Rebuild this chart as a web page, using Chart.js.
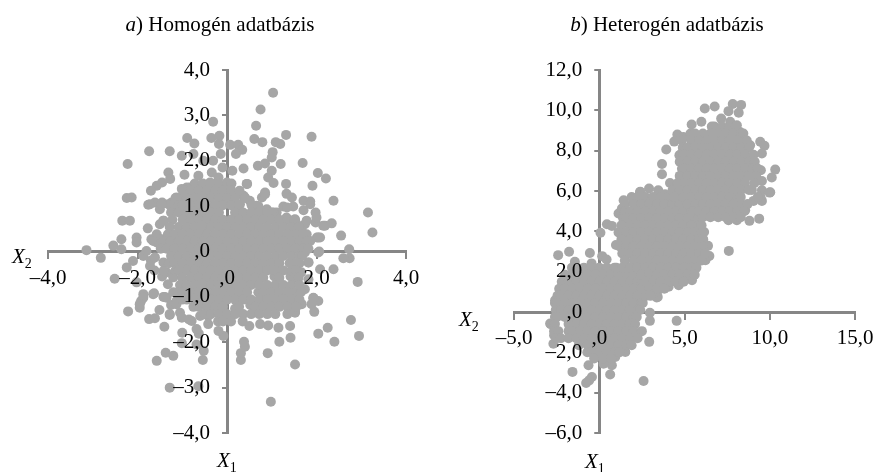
<!DOCTYPE html>
<html>
<head>
<meta charset="utf-8">
<script src="https://cdn.jsdelivr.net/npm/chart.js@4"></script>
<style>
  html, body { margin: 0; padding: 0; background: #fff; overflow: hidden; }
  body { position: relative; width: 874px; height: 472px; font-family: "Liberation Serif", serif; color: #000; }
  canvas { position: absolute; top: 0; }
  .txt { position: absolute; font-size: 21px; line-height: 22px; white-space: nowrap; }
  .title { transform: translateX(-50%); }
  sub { font-size: 14px; line-height: 0; }
</style>
</head>
<body>
<canvas id="chartA" width="437" height="472" style="left:0"></canvas>
<canvas id="chartB" width="437" height="472" style="left:437px"></canvas>
<div class="txt title" style="left:220px;top:13px"><i>a</i>) Homogén adatbázis</div>
<div class="txt title" style="left:667px;top:13px"><i>b</i>) Heterogén adatbázis</div>
<div class="txt" style="left:12px;top:245px"><i>X</i><sub>2</sub></div>
<div class="txt" style="left:217px;top:449px"><i>X</i><sub>1</sub></div>
<div class="txt" style="left:459px;top:308px"><i>X</i><sub>2</sub></div>
<div class="txt" style="left:585px;top:450px"><i>X</i><sub>1</sub></div>
<script>
// tick labels (excel format gives ",0" for zero)
const xTicksA = ['–4,0', '–2,0', ',0', '2,0', '4,0'];
const yTicksA = ['–4,0', '–3,0', '–2,0', '–1,0', ',0', '1,0', '2,0', '3,0', '4,0'];
const xTicksB = ['–5,0', ',0', '5,0', '10,0', '15,0'];
const yTicksB = ['–6,0', '–4,0', '–2,0', ',0', '2,0', '4,0', '6,0', '8,0', '10,0', '12,0'];

// panel a: scattered points read one by one [x, y]
const upperA = [[1.03,3.5],[.75,3.13],[.65,2.77],[-.31,2.86],[-.89,2.5],[-.35,2.5],[-.17,2.55],[-.73,2.38],[-.18,2.37],[.07,2.35],[.25,2.35],[.34,2.24],[.2,2.15],[-.14,2.15],[.61,2.48],[.79,2.41],[1.09,2.41],[1.19,2.37],[1.32,2.57],[1.89,2.53],[1.02,2.19],[1,2.07],[-1.74,2.21],[-1.28,2.21],[-2.22,1.93],[-1.01,2.11],[-.75,2.15],[-.53,2],[-.31,2],[-.1,1.85],[.12,1.78],[.37,1.83],[.69,1.89],[.85,1.94],[1.2,1.93],[1.69,1.95],[1,1.78],[.92,1.63],[1.04,1.51],[1.32,1.49],[2.03,1.73],[2.21,1.61],[1.91,1.45],[.45,1.49],[-1.31,1.74],[-1.27,1.6],[-1.45,1.52],[-1.57,1.45],[-1.7,1.34],[-1.01,1.38],[-.95,1.69],[-.64,1.67],[-.34,1.74],[-.19,1.63],[0,1.52],[-.38,1.52],[-.68,1.45],[-2.24,1.18],[-2.13,1.19],[-1.76,1.03],[-1.61,1.08],[-1.45,1.08],[-1.5,.93],[-1.24,1.08],[.85,1.3],[.78,1.19],[1.33,1.27],[1.45,1.19],[2.38,1.12],[1.71,1.12],[1.86,1.1],[1.26,.99],[1.48,.99],[1.71,.91],[1.98,.86],[3.15,.86],[3.25,.42],[-2.34,.68],[-2.17,.68],[-1.77,.51],[-1.42,.68],[-1.5,.6],[-2.36,.27],[-2.02,.31],[1.98,.64],[2.19,.57],[2.34,.62],[2.55,.35],[2.08,.31],[1.52,.68],[1.74,.6]];
const lowerA = [[-3.14,.03],[-2.82,-.14],[-2.54,.13],[-2.36,.05],[-2.02,.2],[-2.1,-.21],[-2.24,-.35],[-2.51,-.6],[-2.02,-.68],[-1.87,-.94],[-1.92,-1.09],[-1.95,-1.24],[-2.21,-1.32],[-1.63,-.92],[-1.51,-1.29],[-1.74,-1.49],[-1.61,-1.47],[-1.4,-1.66],[-1.28,-1.4],[-1,-1.79],[-1.01,-2.02],[-.68,-2.05],[-.63,-1.81],[-.52,-2.19],[-.54,-2.39],[-1.37,-2.23],[-1.2,-2.3],[-1.57,-2.41],[-1.28,-3],[-.64,-2.97],[.98,-3.31],[1.52,-2.49],[.91,-2.24],[.31,-2.39],[.31,-2.24],[.4,-2.1],[.38,-1.99],[1.17,-1.99],[1.42,-1.9],[2.04,-1.81],[2.25,-1.68],[2.4,-1.99],[2.77,-1.51],[2.95,-1.86],[2.92,-.67],[2.74,-.15],[2.6,-.15],[2.73,.05],[2.38,-.39],[2.08,-.39],[1.82,-.24],[2.06,0],[1.93,-1.03],[2.04,-1.09],[1.89,-1.16],[1.95,-1.33],[1.52,-1.33],[1.41,-1.64],[1.15,-1.68],[.92,-1.63],[.74,-1.6],[.5,-1.64],[-.08,-1.86],[-.19,-1.75],[-.42,-1.6],[-1.7,-.2],[-1.62,-.42],[-1.45,-.55],[-1.32,-.72],[-1.42,-1],[-1.25,-1.18],[-1.05,-1.35],[-.85,-1.5]];
// panel a: thinner band around the middle
const ringA = [[-1.31,1.04],[-1.13,1.19],[-.9,1.41],[-.6,1.41],[-.31,1.27],[.14,1.27],[.37,1.23],[.51,1.12],[.66,1.01],[.89,.93],[1.11,.86],[1.33,.75],[1.52,.71],[1.78,.68],[1.56,.46],[1.67,.46],[1.78,.38],[2.01,.31],[-1.57,.38],[-1.46,.27],[-1.69,.27],[-1.87,-.1],[-1.8,.01],[-1.57,.2],[-1.42,-.24],[-1.35,-.46],[-1.2,-.9],[-1.35,-1.02],[-1.13,-1.09],[-1.28,-1.38],[-1.01,-1.46],[-.79,-1.53],[-.6,-1.42],[-.42,-1.42],[-.68,-1.71],[1.63,-1.16],[1.48,-1.09],[1.74,-.83],[1.82,-.61],[1.74,-.02],[1.66,-.46],[-1.65,.23],[-1.5,.16],[-1.61,-.13],[-1.72,-.32],[-1.42,-.43],[-1.2,-.57],[-1.65,-.94],[-1.39,-1],[-1.13,-1.16],[-1.87,-1.02],[-1.95,-1.16],[1.86,1.04],[2,.75],[2.15,.57],[2.04,.31],[1.86,.23],[2.04,-.02],[1.82,-.24],[1.93,-1.02],[1.67,-1.16],[1.52,-1.35],[1.56,.6],[1.34,.97],[1.04,.86],[.85,1.26],[.7,1],[.44,1.49],[.4,1.19],[.29,1.04],[.07,1.41],[-.27,1.49],[-.53,1.41],[-.83,1.41],[-1.05,1.19],[-1.24,.97],[-1.46,1.04],[-1.72,1.04],[-1.42,.68],[1.06,-.55],[1.42,-.55],[1.4,-.26],[.7,-.9],[.18,-1.26],[.52,-1.18]];

// panel a: dense middle, one x list per row
const coreYA = [1.5,1.34,1.18,1.02,.86,.7,.54,.38,.22,.06,-.1,-.26,-.42,-.58,-.74,-.9,-1.06,-1.22,-1.38,-1.54];
const coreXA = [
  [-.72,-.54,-.36,-.18,0,.1],
  [-.95,-.81,-.63,-.45,-.27,-.09,.09,.28],
  [-1.15,-.9,-.72,-.54,-.36,-.18,0,.18,.4],
  [-1.25,-1.08,-.99,-.81,-.63,-.45,-.27,-.09,.09,.27,.55],
  [-1.25,-1.08,-.9,-.72,-.54,-.36,-.18,.18,.36,.54,.72,.9,1],
  [-1.22,-.99,-.81,-.63,-.45,-.27,-.09,.09,.27,.45,.63,.81,.99,1.17,1.35,1.5],
  [-1.28,-1.08,-.9,-.72,-.54,-.36,-.18,0,.18,.36,.54,.72,.9,1.08,1.26,1.44,1.6],
  [-1.32,-1.17,-.99,-.81,-.63,-.45,-.27,-.09,.09,.27,.45,.63,.81,.99,1.17,1.35,1.53,1.7],
  [-1.4,-1.26,-1.08,-.9,-.72,-.54,-.36,-.18,0,.18,.36,.54,.72,.9,1.08,1.26,1.44,1.62,1.78],
  [-1.48,-1.35,-1.17,-.99,-.81,-.63,-.45,-.27,-.09,.09,.27,.45,.63,.81,.99,1.17,1.35,1.53,1.71,1.82],
  [-1.25,-1.08,-.9,-.72,-.54,-.36,-.18,0,.18,.36,.54,.72,.9,1.08,1.26,1.44,1.62,1.68],
  [-1.3,-1.17,-.99,-.81,-.63,-.45,-.27,-.09,.09,.27,.45,.63,.81,.99,1.17,1.53,1.62],
  [-1.15,-1.08,-.9,-.72,-.54,-.36,-.18,0,.18,.36,.54,.72,.9,1.08,1.26,1.44,1.55],
  [-1,-.81,-.63,-.45,-.27,-.09,.09,.27,.45,.63,.81,1.17,1.53,1.6],
  [-1.05,-.9,-.72,-.54,-.36,-.18,0,.18,.36,.54,.72,.9,1.08,1.26,1.44,1.62],
  [-1.1,-.99,-.81,-.63,-.45,-.27,-.09,.09,.27,.45,.81,.99,1.17,1.35,1.53,1.65],
  [-1,-.9,-.72,-.54,-.36,-.18,0,.18,.36,.54,.72,.9,1.08,1.26,1.44,1.62],
  [-.75,-.63,-.45,-.27,-.09,.27,.63,.81,.99,1.17,1.35,1.55],
  [-.5,-.36,-.18,0,.18,.36,.54,.72,.9,1.08,1.35],
  [-.2,-.09,.09,.35]
];

// panel b: scattered points read one by one [x, y]
const scatterB = [[6.19,10.09],[6.77,10.19],[7.83,10.31],[8.32,10.27],[7.58,9.96],[8.18,9.88],[7.15,9.59],[5.99,9.43],[5.42,9.3],[7.68,9.43],[8.07,9.26],[8.26,8.93],[4.58,8.8],[4.93,8.68],[4.4,8.45],[3.93,8.06],[4.7,7.77],[3.68,7.34],[3.68,6.83],[4.15,6.4],[2.39,5.95],[2.92,6.12],[3.46,6.04],[3.86,5.84],[8.85,8.27],[9.44,8.44],[9.69,8.24],[9.54,7.86],[10.32,7.06],[10.12,6.67],[9.54,6.5],[9.48,7.03],[10.03,5.94],[9.54,6.04],[9.54,5.51],[9.05,5.51],[9.38,4.63],[8.81,4.52],[8.56,5.04],[8.07,4.55],[7.58,4.55],[6.89,4.75],[6.3,4.8],[6.15,3.97],[-2.41,2.82],[-1.77,2.99],[-.55,2.93],[.17,2.77],[.43,2.6],[.07,3.93],[.98,3.32],[3.37,.72],[2.97,-.04],[2.97,-.44],[4.54,-.44],[2.93,-1.48],[-1.43,2.49],[-.45,2.41],[7.6,3.03],[6.38,3.28],[6.46,2.78],[6.23,2.57],[2.6,-3.42],[.64,-3.1],[.74,-2.64],[.25,-2.56],[-.63,-2.64],[-1.57,-2.97],[-.43,-3.22],[-.59,-3.39],[-.77,-3.52],[1.53,-1.98],[.94,-2.23],[-2.69,-1.57],[-2.88,-.57],[-2.65,-1.15],[-2.59,.58],[3.43,.75],[5.44,1.58],[5.05,1.74],[4.66,1.33],[4.07,1.25],[3.39,1],[.45,4.35],[.74,4.27],[1.13,4.88],[1.43,5.54],[1.33,5.13],[2.41,5.96],[2.02,5.46],[1.13,3.94],[9.99,5.92],[9.46,5.71]];

// panel b: dense clusters, one x list per row
const highY = [9.2,8.85,8.5,8.15,7.8,7.45,7.1,6.75,6.4,6.05,5.7,5.35,5,4.7];
const highX = [
  [6.6,6.75,7.2,7.65,8],
  [5.35,5.62,6.08,6.52,6.98,7.42,7.88,8.32,8.45],
  [4.85,5.4,5.85,6.3,6.75,7.2,7.65,8.1,8.55,8.65],
  [4.9,5.18,5.62,6.08,6.52,6.98,7.42,7.88,8.32,8.78],
  [4.75,4.95,5.4,5.85,6.3,6.75,7.2,7.65,8.1,8.55,9.05],
  [4.72,5.18,5.62,6.08,6.52,6.98,7.42,7.88,8.32,8.78,9.12],
  [4.85,4.95,5.4,5.85,6.3,6.75,7.2,7.65,8.1,8.55,9,9.3],
  [4.72,5.18,5.62,6.08,6.52,6.98,7.42,7.88,8.32,8.78,9.2],
  [4.6,4.95,5.4,5.85,6.3,6.75,7.2,7.65,8.1,8.55,9.1],
  [4.3,4.72,5.18,5.62,6.08,6.52,6.98,7.42,7.88,8.32,8.78,8.95],
  [4.4,4.95,5.4,5.85,6.3,6.75,7.2,7.65,8.1,8.3,9.3],
  [5.18,5.62,6.08,6.52,6.98,7.42,7.88,8.32,8.7],
  [5.5,5.85,6.3,6.75,7.2,7.65,8.1,8.5],
  [6.08,6.52,6.98,7.42,7.88,8.3]
];
const midY = [5.7,5.35,5,4.65,4.3,3.95,3.6,3.25,2.9,2.55,2.2,1.85,1.5,1.15,.8];
const midX = [
  [1.9,2.25,2.7,3.15,3.6,4.05,4.5],
  [1.5,2.02,2.48,2.92,3.38,3.82,4.28,4.72,5.18,5.3],
  [1.5,1.8,2.25,2.7,3.15,3.6,4.05,4.5,4.95,5.4,5.6],
  [1.4,1.58,2.02,2.48,2.92,3.38,3.82,4.28,4.72,5.18,5.62,5.8],
  [1.3,1.8,2.25,2.7,3.15,3.6,4.05,4.5,4.95,5.4,5.85,6],
  [1.4,1.58,2.02,2.48,2.92,3.38,3.82,4.28,4.72,5.18,5.62,6.02],
  [1.3,1.8,2.25,2.7,3.15,3.6,4.05,4.5,4.95,5.4,5.85,6.1],
  [1.2,1.58,2.02,2.48,2.92,3.38,3.82,4.28,4.72,5.18,5.62,6.08],
  [1.35,1.8,2.25,2.7,3.15,3.6,4.05,4.5,4.95,5.4,5.85,6.2],
  [1.5,2.02,2.48,2.92,3.38,3.82,4.28,4.72,5.18,5.62,6],
  [1,1.35,1.8,2.25,2.7,3.15,3.6,4.05,4.5,4.95,5.4,5.7],
  [2.48,2.92,3.38,3.82,4.28,4.72,5.18,5.6],
  [2.7,3.15,3.6,4.05,4.5,4.95],
  [2.92,3.38,3.82],
  [2.7,3]
];
const lowY = [2.2,1.85,1.5,1.15,.8,.45,.1,-.25,-.6,-.95,-1.3,-1.65,-2,-2.3];
const lowX = [
  [-1.6,-1.35,-.9,-.45,0,.45,.9],
  [-2,-1.58,-1.12,-.68,-.22,.22,.68,1.12,1.58,2.02,2.48],
  [-2.2,-1.8,-1.35,-.9,-.45,0,.45,.9,1.35,1.8,2.25,2.5],
  [-2.35,-2.02,-1.58,-1.12,-.68,-.22,.22,.68,1.12,1.58,2.02,2.48],
  [-2.45,-2.25,-1.8,-1.35,-.9,-.45,0,.45,.9,1.35,1.8,2.25,2.7],
  [-2.6,-2.48,-2.02,-1.58,-1.12,-.68,-.22,.22,.68,1.12,1.58,2.02,2.48,2.55],
  [-2.55,-2.25,-1.8,-1.35,-.9,-.45,0,.45,.9,1.35,1.8,2.25,2.4],
  [-2.6,-2.48,-2.02,-1.58,-1.12,-.68,-.22,.22,.68,1.12,1.58,2.02,2.2],
  [-2.85,-2.6,-1.8,-1.35,-.9,-.45,0,.45,.9,1.35,1.8,2.1],
  [-2.65,-2.4,-1.8,-1.58,-1.12,-.68,-.22,.22,.68,1.12,1.58,2.02,2.5],
  [-2.5,-2.25,-1.8,-1.35,-.9,-.45,0,.45,.9,1.35,1.8,2.25],
  [-1.2,-.68,-.22,.22,.68,1.12,1.58,1.9],
  [-.7,-.45,0,.45,.9,1.2],
  [-.3,.22,.7]
];

// turn one x list per row into points
function rowsToPoints(ys, xs) {
    return ys.flatMap((y, i) => xs[i].map(x => ({ x: x, y: y })));
}
function pairsToPoints(pairs) {
    return pairs.map(p => ({ x: p[0], y: p[1] }));
}

// move the y axis onto x = 0 but keep tick padding (object position ignores it)
const yAxisAtZero = {
    id: 'yAxisAtZero',
    afterLayout(chart) {
        const px = chart.scales.x.getPixelForValue(0);
        chart.scales.y.left = px - 60;
        chart.scales.y.right = px;
    }
};

function makeScatter(id, points, xLabels, yLabels, xr, yr, area) {
    const font = { family: '"Liberation Serif", serif', size: 21 };
    new Chart(document.getElementById(id), {
        type: 'scatter',
        data: {
            datasets: [{
                data: points,
                backgroundColor: '#a6a6a6',
                borderWidth: 0,
                pointRadius: 5,
                clip: false
            }]
        },
        plugins: [yAxisAtZero],
        options: {
            responsive: false,
            animation: false,
            layout: { padding: area },
            plugins: { legend: { display: false }, tooltip: { enabled: false } },
            scales: {
                x: {
                    type: 'linear',
                    position: { y: 0 },
                    min: xr[0],
                    max: xr[1],
                    afterFit: s => { s.height = 0; s.paddingLeft = 0; s.paddingRight = 0; },
                    grid: { drawOnChartArea: false, color: '#868686', lineWidth: 2, tickLength: 6 },
                    border: { color: '#868686', width: 3 },
                    ticks: {
                        z: 1,
                        stepSize: xr[2],
                        color: '#000',
                        font: font,
                        padding: 8,
                        maxRotation: 0,
                        autoSkip: false,
                        callback: (v, i) => xLabels[i]
                    }
                },
                y: {
                    type: 'linear',
                    position: 'left',
                    min: yr[0],
                    max: yr[1],
                    afterFit: s => { s.width = 0; s.paddingTop = 0; s.paddingBottom = 0; },
                    grid: { drawOnChartArea: false, color: '#868686', lineWidth: 2, tickLength: 5 },
                    border: { color: '#868686', width: 3 },
                    ticks: {
                        z: 1,
                        stepSize: yr[2],
                        color: '#000',
                        font: font,
                        padding: 12,
                        autoSkip: false,
                        callback: (v, i) => yLabels[i]
                    }
                }
            }
        }
    });
}

document.addEventListener('DOMContentLoaded', function () {
    const pointsA = pairsToPoints(upperA).concat(pairsToPoints(lowerA), pairsToPoints(ringA), rowsToPoints(coreYA, coreXA));
    const pointsB = pairsToPoints(scatterB).concat(rowsToPoints(lowY, lowX), rowsToPoints(midY, midX), rowsToPoints(highY, highX));
    makeScatter('chartA', pointsA, xTicksA, yTicksA, [-4, 4, 2], [-4, 4, 1],
        { left: 48, right: 31, top: 70, bottom: 39 });
    makeScatter('chartB', pointsB, xTicksB, yTicksB, [-5, 15, 5], [-6, 12, 2],
        { left: 77, right: 19, top: 70, bottom: 39 });
});
</script>
</body>
</html>
